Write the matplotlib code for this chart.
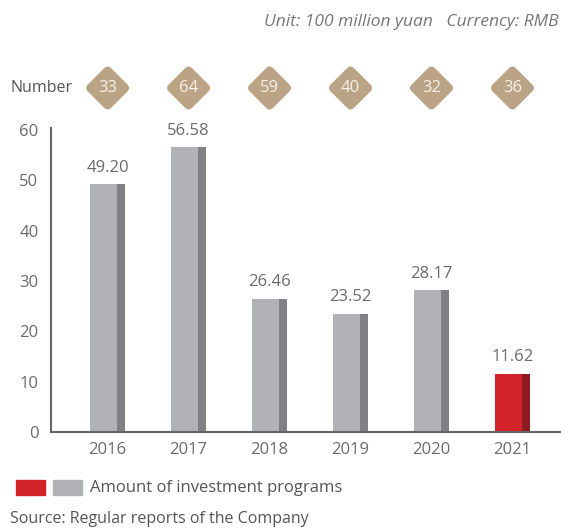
import matplotlib
matplotlib.use("Agg")
import matplotlib.pyplot as plt
from matplotlib.patches import FancyBboxPatch, Rectangle
from matplotlib.transforms import Affine2D

# chart data
years = ["2016", "2017", "2018", "2019", "2020", "2021"]
amounts = [49.20, 56.58, 26.46, 23.52, 28.17, 11.62]
numbers = [33, 64, 59, 40, 32, 36]
yticks = [0, 10, 20, 30, 40, 50, 60]

W, H = 561, 529
plt.rcParams["font.family"] = ["Open Sans", "DejaVu Sans"]
txt = "#6b6b6b"

fig = plt.figure(figsize=(W / 100, H / 100), dpi=100)
ax = fig.add_axes([51 / W, (H - 432) / H, (W - 51) / W, (432 - 128) / H])

x = list(range(len(years)))
light = ["#b1b2b6"] * 5 + ["#d2232a"]
dark = ["#808185"] * 5 + ["#8e1b1f"]

# front face + darker side face of each bar
ax.bar([i - 0.216 for i in x], amounts, width=0.333, align="edge", color=light, zorder=2)
ax.bar([i + 0.117 for i in x], amounts, width=0.099, align="edge", color=dark, zorder=2)

for i, v in zip(x, amounts):
    ax.annotate(f"{v:.2f}", (i, v), xytext=(0, 6), textcoords="offset points",
                ha="center", va="bottom", fontsize=12, color=txt)

ax.set_xlim(-0.70, 5.6)
ax.set_ylim(0, 60.4)
ax.set_yticks(yticks)
ax.set_xticks(x)
ax.set_xticklabels(years)
ax.tick_params(length=0, labelsize=12, colors=txt)
ax.tick_params(axis="y", pad=9)
ax.tick_params(axis="x", pad=7)
for s in ["top", "right"]:
    ax.spines[s].set_visible(False)
for s in ["left", "bottom"]:
    ax.spines[s].set_color("#666666")
    ax.spines[s].set_linewidth(1.5)
    ax.spines[s].set_zorder(3)

# diamonds with the number of programs
side = 33
for i, n in zip(x, numbers):
    px = ax.transData.transform((i, 0))[0]
    py = H - 88
    d = FancyBboxPatch((-side / 2, -side / 2), side, side,
                       boxstyle="round,pad=0,rounding_size=5",
                       facecolor="#bba486", edgecolor="none",
                       transform=Affine2D().rotate_deg(45).translate(px, py))
    fig.add_artist(d)
    fig.text(px / W, py / H, str(n), ha="center", va="center",
             fontsize=12, color="#f5f0e8")

fig.text(10 / W, 1 - 88 / H, "Number", ha="left", va="center", fontsize=11.5, color="#555555")
fig.text(0.996, 1 - 22 / H, "Unit: 100 million yuan   Currency: RMB", ha="right", va="center",
         fontsize=12.5, style="italic", color="#777777")

# legend
fig.add_artist(Rectangle((16 / W, 1 - 495 / H), 29 / W, 15 / H, transform=fig.transFigure,
                         color="#d2232a"))
fig.add_artist(Rectangle((53 / W, 1 - 495 / H), 29 / W, 15 / H, transform=fig.transFigure,
                         color="#b1b2b6"))
fig.text(90 / W, 1 - 488 / H, "Amount of investment programs", ha="left", va="center",
         fontsize=12, color="#555555")
fig.text(10 / W, 1 - 519 / H, "Source: Regular reports of the Company", ha="left", va="center",
         fontsize=11.5, color="#555555")

fig.savefig("out.png", dpi=100)
